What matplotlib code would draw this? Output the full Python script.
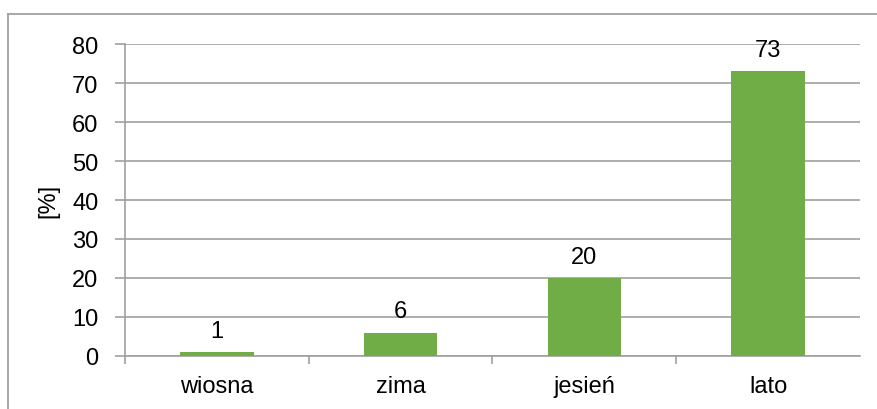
import matplotlib.pyplot as plt
from matplotlib.lines import Line2D

plt.rcParams['font.family'] = ['Liberation Sans', 'DejaVu Sans']

categories = ['wiosna', 'zima', 'jesień', 'lato']
values = [1, 6, 20, 73]
yticks = [0, 10, 20, 30, 40, 50, 60, 70, 80]

bar_color = '#70AD47'
grid_color = '#A0A0A0'
fs = 17

fig = plt.figure(figsize=(8.77, 4.10), dpi=100)
ax = fig.add_axes([0.1425, 0.1293, 0.8381, 0.7609])

x = list(range(len(categories)))
ax.bar(x, values, width=0.4, color=bar_color, zorder=3)

for xi, v in zip(x, values):
    ax.text(xi, v + 2.6, str(v), ha='center', va='bottom', fontsize=fs, color='black')

ax.set_xlim(-0.5, len(categories) - 0.5)
ax.set_ylim(0, 80)
ax.set_yticks(yticks)
ax.set_yticklabels([str(t) for t in yticks], fontsize=fs)
ax.yaxis.grid(True, color=grid_color, linewidth=1.2, zorder=0)
ax.set_ylabel('[%]', fontsize=fs, labelpad=9)

# category labels at centers, tick marks at boundaries
ax.set_xticks(x)
ax.set_xticklabels(categories, fontsize=fs)
ax.tick_params(axis='x', length=0, pad=14)
ax.set_xticks([i + 0.5 for i in range(len(categories) - 1)] + [-0.5], minor=True)
ax.tick_params(axis='x', which='minor', length=6, color=grid_color, width=1.2)
ax.tick_params(axis='y', length=7, color=grid_color, width=1.2, pad=12)

for side in ['top', 'right']:
    ax.spines[side].set_visible(False)
for side in ['left', 'bottom']:
    ax.spines[side].set_color(grid_color)
    ax.spines[side].set_linewidth(1.2)

# outer chart border (left and top edges visible)
fig.add_artist(Line2D([8 / 877, 8 / 877], [0, 1 - 15 / 410], color='#9A9A9A', linewidth=1.2))
fig.add_artist(Line2D([8 / 877, 1], [1 - 15 / 410, 1 - 15 / 410], color='#9A9A9A', linewidth=1.2))

fig.savefig('out.png', dpi=100, facecolor='white')
